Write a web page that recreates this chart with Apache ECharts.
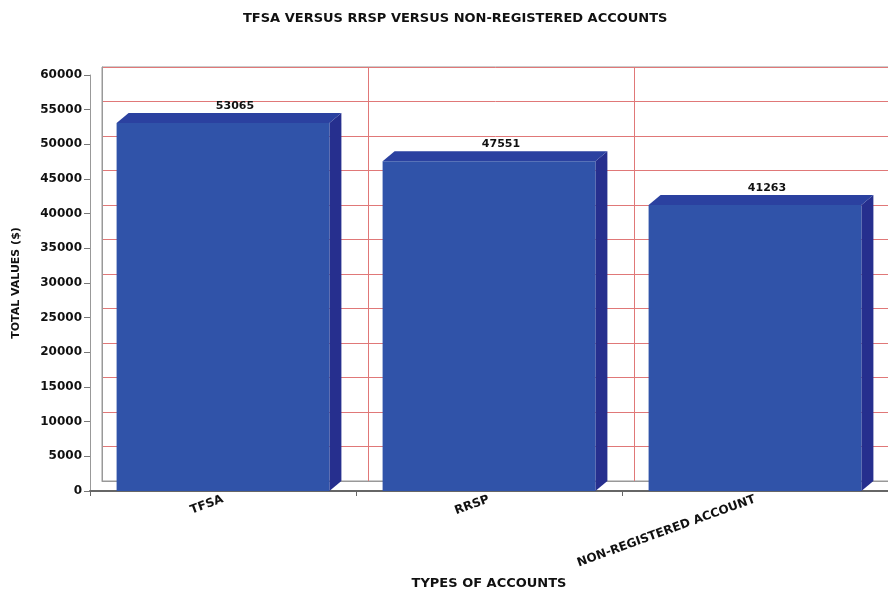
<!DOCTYPE html>
<html>
<head>
<meta charset="utf-8">
<script src="https://cdn.jsdelivr.net/npm/echarts@6/dist/echarts.min.js"></script>
<style>
  html, body { margin: 0; padding: 0; background: #fff; }
  #main { width: 888px; height: 593px; }
</style>
</head>
<body>
<div id="main"></div>
<script>
// 数据
var categories = ['TFSA', 'RRSP', 'NON-REGISTERED ACCOUNT'];
var totals = [53065, 47551, 41263];
var yMin = 0, yMax = 60000, yStep = 5000;

var myChart = echarts.init(document.getElementById('main'));
var font = 'DejaVu Sans';
// 3D 偏移
var dx = 12, dy = -10;

function renderBar(params, api) {
    var idx = api.value(0), v = api.value(1);
    var top = api.coord([idx, v]);
    var base = api.coord([idx, 0]);
    var w = api.size([1, 0])[0] * 0.8;
    var l = top[0] - w / 2, r = top[0] + w / 2;
    return {
        type: 'group',
        children: [
            { type: 'polygon', shape: { points: [[r, top[1]], [r + dx, top[1] + dy], [r + dx, base[1] + dy], [r, base[1]]] },
              style: { fill: '#262f8e' } },
            { type: 'polygon', shape: { points: [[l, top[1]], [l + dx, top[1] + dy], [r + dx, top[1] + dy], [r, top[1]]] },
              style: { fill: '#2b41a0' } },
            { type: 'rect', shape: { x: l, y: top[1], width: w, height: base[1] - top[1] },
              style: { fill: '#3053a9' } },
            { type: 'text', x: top[0] + dx, y: top[1] + dy - 7,
              style: { text: String(v), font: 'bold 11px ' + font, fill: '#111', align: 'center', verticalAlign: 'middle' } }
        ]
    };
}

var option = {
    backgroundColor: '#fff',
    animation: false,
    title: {
        text: 'TFSA VERSUS RRSP VERSUS NON-REGISTERED ACCOUNTS',
        left: 238, top: 7,
        textStyle: { fontFamily: font, fontSize: 13, fontWeight: 'bold', color: '#111' }
    },
    grid: [
        // 前面
        { left: 90, width: 798, top: 75, bottom: 102, outerBoundsMode: 'none' },
        // 背面
        { left: 102, width: 798, top: 67, bottom: 112, outerBoundsMode: 'none', show: true, borderColor: '#999', borderWidth: 1 }
    ],
    xAxis: [
        {
            type: 'category', gridIndex: 0, data: categories,
            name: 'TYPES OF ACCOUNTS', nameLocation: 'middle', nameGap: 86,
            nameTextStyle: { fontFamily: font, fontSize: 13, fontWeight: 'bold', color: '#111' },
            axisLine: { lineStyle: { color: '#666', width: 2 } },
            axisTick: { show: true, length: 5, lineStyle: { color: '#666' } },
            axisLabel: { rotate: 20, margin: 8, fontFamily: font, fontSize: 12, fontWeight: 'bold', color: '#111' },
            splitLine: { show: false }
        },
        {
            type: 'category', gridIndex: 1, data: categories,
            axisLine: { lineStyle: { color: '#999' } },
            axisTick: { show: false }, axisLabel: { show: false },
            splitLine: { show: true, interval: 0, lineStyle: { color: '#e07878', width: 1 } }
        }
    ],
    yAxis: [
        {
            type: 'value', gridIndex: 0, min: yMin, max: yMax, interval: yStep,
            name: 'TOTAL VALUES ($)', nameLocation: 'middle', nameGap: 68,
            nameTextStyle: { fontFamily: font, fontSize: 11, fontWeight: 'bold', color: '#111' },
            axisLine: { show: true, lineStyle: { color: '#999' } },
            axisTick: { show: true, length: 6, lineStyle: { color: '#777' } },
            axisLabel: { margin: 8, fontFamily: font, fontSize: 12, fontWeight: 'bold', color: '#111',
                formatter: function (v) { return String(v); } },
            splitLine: { show: false }
        },
        {
            type: 'value', gridIndex: 1, min: yMin, max: yMax, interval: yStep,
            axisLine: { show: true, lineStyle: { color: '#999' } }, axisTick: { show: false }, axisLabel: { show: false },
            splitLine: { show: true, lineStyle: { color: '#e07878', width: 1 } }
        }
    ],
    series: [{
        type: 'custom',
        xAxisIndex: 0, yAxisIndex: 0,
        renderItem: renderBar,
        data: totals.map(function (v, i) { return [i, v]; }),
        z: 5
    }]
};

myChart.setOption(option);
</script>
</body>
</html>
